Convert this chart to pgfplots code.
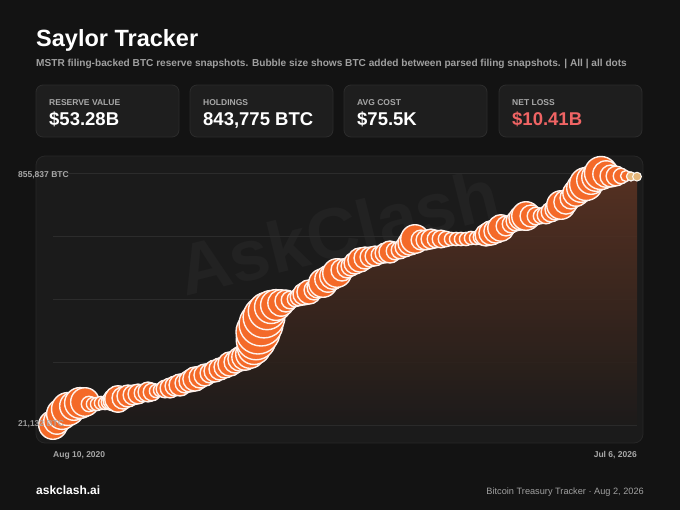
\documentclass[border=0pt]{standalone}
\usepackage{pgfplots}
\pgfplotsset{compat=1.18}
\usepackage{pgfplotstable}
\usepackage{fontspec}
\setmainfont{Liberation Sans}
\definecolor{bg}{HTML}{131313}
\definecolor{card}{HTML}{1E1E1E}
\definecolor{cardline}{HTML}{2C2C2C}
\definecolor{panel}{HTML}{1B1B1B}
\definecolor{panelline}{HTML}{272727}
\definecolor{gridc}{HTML}{2C2C2C}
\definecolor{bubble}{HTML}{F46A29}
\definecolor{tanc}{HTML}{E6B77A}
\definecolor{areatop}{HTML}{5E3423}
\definecolor{areabot}{HTML}{1D1B1A}
\definecolor{labelc}{HTML}{A8A8A8}
\definecolor{subc}{HTML}{A0A0A0}
\definecolor{loss}{HTML}{F06464}
\definecolor{wm}{HTML}{222222}

\pgfplotstableread{
t v r
2020.607 21132 13
2020.647 34381 12
2020.698 57567 14
2020.759 74129 15
2020.819 84066 13
2020.880 94003 14
2020.930 97315 13
2020.971 90690 7
2021.011 90690 6
2021.052 90690 6
2021.092 94003 6
2021.133 94003 6
2021.173 97315 7
2021.224 103940 10
2021.264 107252 12
2021.315 110564 10
2021.365 117189 10
2021.416 120501 9
2021.466 123813 9
2021.517 127126 8
2021.567 130438 9
2021.608 130438 8
2021.648 133750 6
2021.689 137063 6
2021.739 140375 8
2021.790 143687 9
2021.840 150312 9
2021.891 153624 10
2021.941 160249 9
2021.992 166873 10
2022.042 173498 11
2022.093 180122 10
2022.143 186747 10
2022.194 193372 9
2022.245 199996 10
2022.295 206621 10
2022.346 213245 10
2022.396 223182 11
2022.447 229807 10
2022.497 239744 11
2022.548 246368 12
2022.598 256305 13
2022.639 276179 15
2022.659 302678 18
2022.679 329176 20
2022.710 355674 20
2022.740 378860 19
2022.770 398734 17
2022.811 411983 15
2022.861 418608 14
2022.912 425233 12
2022.962 431857 10
2023.003 435170 8
2023.053 438482 7
2023.094 445106 8
2023.144 455043 10
2023.195 461668 11
2023.245 468293 9
2023.286 478229 10
2023.336 491479 13
2023.387 504728 12
2023.437 514665 12
2023.478 524602 13
2023.528 534539 10
2023.579 541163 9
2023.619 547788 9
2023.660 557725 10
2023.710 567662 11
2023.761 574286 10
2023.811 577598 9
2023.862 580911 9
2023.912 584223 8
2023.963 590848 9
2024.013 594160 10
2024.064 597472 8
2024.115 600785 8
2024.165 610721 9
2024.216 623971 11
2024.266 637220 13
2024.327 633908 9
2024.377 633908 9
2024.428 637220 9
2024.478 637220 8
2024.529 637220 8
2024.579 637220 7
2024.630 637220 6
2024.681 637220 6
2024.731 637220 6
2024.782 637220 6
2024.832 640532 6
2024.883 640532 6
2024.933 643844 7
2024.984 650469 10
2025.034 657094 11
2025.085 663718 11
2025.135 673655 12
2025.186 680280 9
2025.237 686904 8
2025.287 696841 9
2025.338 706778 11
2025.388 713403 13
2025.439 713403 10
2025.489 713403 8
2025.540 713403 7
2025.590 716715 8
2025.641 726652 9
2025.691 736589 10
2025.742 749838 13
2025.792 759775 11
2025.843 773024 10
2025.894 789586 12
2025.944 806147 13
2025.995 819396 15
2026.045 832646 13
2026.096 842582 13
2026.146 855837 15
2026.197 852525 12
2026.247 845893 10
2026.298 845893 9
2026.348 845893 7
2026.399 845893 5
2026.449 844500 4
2026.510 843775 4
}\bubbles

\newcommand{\card}[4]{%
  \draw[fill=card, draw=cardline, line width=0.8bp, rounded corners=7bp] (#1bp,-85bp) rectangle ++(143bp,-52bp);
  \node[anchor=base west, text=labelc, font=\bfseries\fontsize{8.5bp}{10bp}\selectfont, inner sep=0] at (#1bp+13bp,-105bp) {#2};
  \node[anchor=base west, text=#4, font=\bfseries\fontsize{18.5bp}{22bp}\selectfont, inner sep=0] at (#1bp+13bp,-125bp) {#3};
}

\begin{document}
\begin{tikzpicture}
\fill[bg] (0,0) rectangle (680bp,-510bp);
% title
\node[anchor=base west, text=white, font=\bfseries\fontsize{23.5bp}{28bp}\selectfont, inner sep=0] at (36bp,-46.5bp) {Saylor Tracker};
\node[anchor=base west, text=subc, font=\bfseries\fontsize{10.1bp}{12bp}\selectfont, inner sep=0] at (36bp,-66.5bp) {MSTR filing-backed BTC reserve snapshots. Bubble size shows BTC added between parsed filing snapshots. | All | all dots};
% cards
\card{36}{RESERVE VALUE}{\$53.28B}{white}
\card{190}{HOLDINGS}{843,775 BTC}{white}
\card{344}{AVG COST}{\$75.5K}{white}
\card{499}{NET LOSS}{\$10.41B}{loss}
% panel
\draw[fill=panel, draw=panelline, line width=0.8bp, rounded corners=9bp] (36bp,-156bp) rectangle (643bp,-443bp);
% watermark
\node[rotate=14, text=wm, font=\bfseries\fontsize{72bp}{80bp}\selectfont, inner sep=0] at (338bp,-232bp) {AskClash};
\begin{axis}[
  at={(53bp,-425bp)}, anchor=south west,
  scale only axis, width=584bp, height=252bp,
  xmin=2020.607, xmax=2026.510,
  ymin=21132, ymax=855837,
  clip=false,
  axis line style={draw=none},
  xtick=\empty,
  ytick={21132,229808.25,438484.5,647160.75,855837},
  yticklabels={},
  scaled y ticks=false,
  major tick length=0pt,
  ymajorgrids,
  grid style={gridc, line width=0.8bp},
]
\addplot[draw=none, top color=areatop, bottom color=areabot, fill opacity=0.88] table[x=t,y=v] {\bubbles} \closedcycle;
\addplot[scatter, only marks, mark=*,
  restrict x to domain=2020:2026.44,
  scatter/use mapped color={draw=white!92!bubble, fill=bubble},
  visualization depends on={1.1*\thisrow{r}\as\rr},
  scatter/@pre marker code/.append style={/tikz/mark size=\rr bp},
  mark options={line width=1.4bp}] table[x=t,y=v,meta=r] {\bubbles};
\addplot[scatter, only marks, mark=*,
  restrict x to domain=2026.44:2027,
  scatter/use mapped color={draw=white!90!tanc, fill=tanc},
  visualization depends on={1.1*\thisrow{r}\as\rr},
  scatter/@pre marker code/.append style={/tikz/mark size=\rr bp},
  mark options={line width=1bp}] table[x=t,y=v,meta=r] {\bubbles};
\end{axis}
% axis labels
\node[anchor=base west, text=labelc, font=\bfseries\fontsize{8.5bp}{10bp}\selectfont, inner sep=0] at (18bp,-177bp) {855,837 BTC};
\node[anchor=base west, text=labelc, opacity=0.9, font=\bfseries\fontsize{8.5bp}{10bp}\selectfont, inner sep=0] at (18bp,-426bp) {21,132 BTC};
\node[anchor=base west, text=labelc, font=\bfseries\fontsize{8.5bp}{10bp}\selectfont, inner sep=0] at (53bp,-457bp) {Aug 10, 2020};
\node[anchor=base east, text=labelc, font=\bfseries\fontsize{8.5bp}{10bp}\selectfont, inner sep=0] at (637bp,-457bp) {Jul 6, 2026};
% footer
\node[anchor=base west, text=white, font=\bfseries\fontsize{12bp}{14bp}\selectfont, inner sep=0] at (36bp,-494bp) {askclash.ai};
\node[anchor=base east, text=subc, font=\fontsize{9.2bp}{11bp}\selectfont, inner sep=0] at (644bp,-494bp) {Bitcoin Treasury Tracker · Aug 2, 2026};
\end{tikzpicture}
\end{document}
